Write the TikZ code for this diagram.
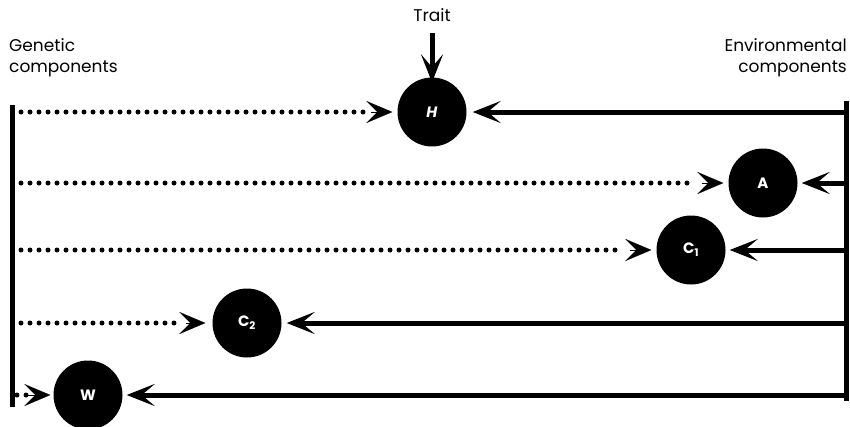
\documentclass[tikz,border=0pt]{standalone}
\usepackage{fontspec}
\setmainfont{Poppins}
\usetikzlibrary{arrows.meta}
\tikzset{
  comp/.style={circle,fill=black,minimum size=69pt,inner sep=0pt,text=white,font=\fontsize{15}{15}\selectfont\bfseries},
  bar/.style={line width=5pt},
  solidarr/.style={line width=5pt,-{Stealth[length=28pt,width=22pt,inset=13pt]}},
  dotline/.style={line width=5pt,line cap=round,dash pattern=on 0pt off 9pt},
  dottip/.style={line width=0.1pt,-{Stealth[length=26pt,width=22pt,inset=11pt]}},
  lbl/.style={font=\fontsize{17}{21}\selectfont,inner sep=0pt}
}
\begin{document}
\begin{tikzpicture}[x=1pt,y=-1pt]
\useasboundingbox (0,0) rectangle (850,426);
% labels
\node[lbl,anchor=base west,align=left] (gen) at (9,72) {Genetic\\components};
\node[lbl,anchor=base east,align=right] (env) at (847,72) {Environmental\\components};
\node[lbl,anchor=base] (trait) at (432,21) {Trait};
% components
\node[comp] (H) at (432,112) {\textit{H}};
\node[comp] (A) at (763,183) {A};
\node[comp] (C1) at (691,250) {C$_{\mathbf{1}}$};
\node[comp] (C2) at (247,323) {C$_{\mathbf{2}}$};
\node[comp] (W) at (88,395) {W};
% bars
\coordinate (gtop) at (12,105);
\coordinate (gbot) at (12,407);
\coordinate (etop) at (846,101);
\coordinate (ebot) at (846,401);
\draw[bar] (gtop) -- (gbot);
\draw[bar] (etop) -- (ebot);
% trait arrow
\coordinate (ttop) at (432,33);
\draw[solidarr] (ttop) -- ([yshift=-5pt]H.north);
% side coordinates
\foreach \n/\y in {H/112,A/183,C1/250,C2/323}{
  \coordinate (g\n) at (21,\y);
}
\coordinate (gW) at (17,395);
\foreach \n/\y in {H/112,A/183,C1/250,C2/323,W/395}{
  \coordinate (e\n) at (846,\y);
}
% dotted arrows
\draw[dotline] (gH) -- ([xshift=-33pt]H.west);
\draw[dottip] ([xshift=-26pt]H.west) -- ([xshift=-5pt]H.west);
\draw[dotline] (gA) -- ([xshift=-33pt]A.west);
\draw[dottip] ([xshift=-26pt]A.west) -- ([xshift=-5pt]A.west);
\draw[dotline] (gC1) -- ([xshift=-33pt]C1.west);
\draw[dottip] ([xshift=-26pt]C1.west) -- ([xshift=-5pt]C1.west);
\draw[dotline] (gC2) -- ([xshift=-33pt]C2.west);
\draw[dottip] ([xshift=-26pt]C2.west) -- ([xshift=-7pt]C2.west);
\draw[dotline] (gW) -- ([xshift=-26pt]W.west);
\draw[dottip] ([xshift=-26pt]W.west) -- ([xshift=-3pt]W.west);
% solid arrows
\draw[solidarr] (eH) -- ([xshift=6pt]H.east);
\draw[solidarr] (eA) -- ([xshift=4pt]A.east);
\draw[solidarr] (eC1) -- ([xshift=4pt]C1.east);
\draw[solidarr] (eC2) -- ([xshift=5pt]C2.east);
\draw[solidarr] (eW) -- ([xshift=4pt]W.east);
\end{tikzpicture}
\end{document}
